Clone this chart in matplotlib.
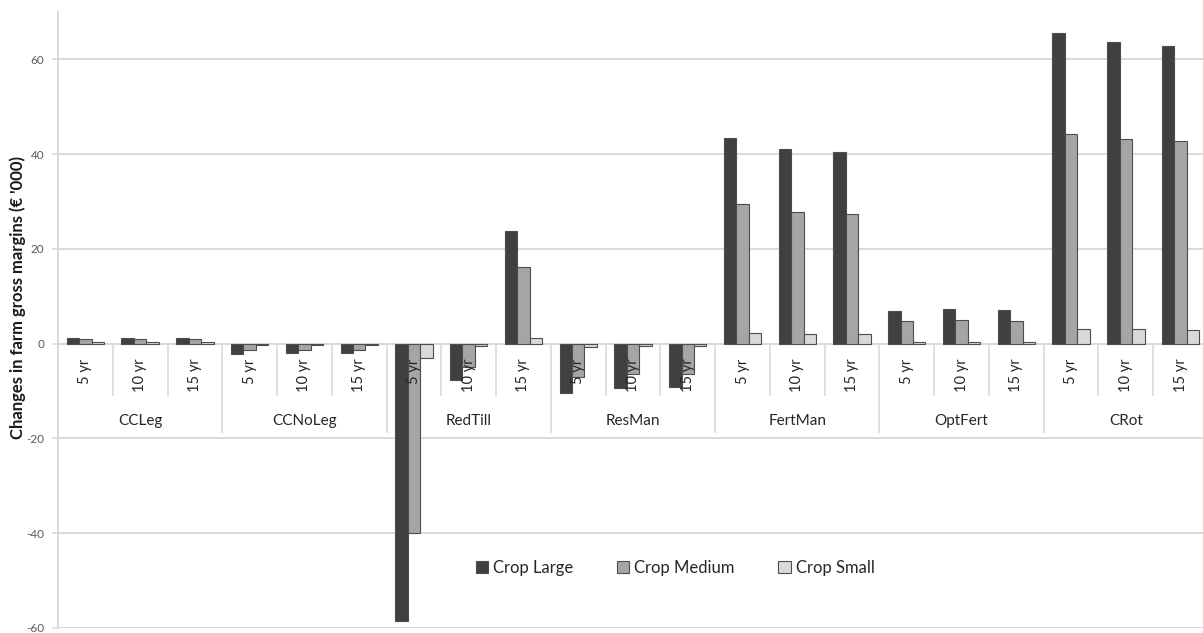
import matplotlib
matplotlib.use("Agg")
import matplotlib.pyplot as plt
import numpy as np

# Scenario groups and time horizons
groups = ["CCLeg", "CCNoLeg", "RedTill", "ResMan", "FertMan", "OptFert", "CRot"]
horizons = ["5 yr", "10 yr", "15 yr"]
series_names = ["Crop Large", "Crop Medium", "Crop Small"]

# Change in farm gross margins (EUR '000), one value per group x horizon
crop_large = [1.3, 1.3, 1.3,
              -2.1, -1.9, -1.9,
              -58.5, -7.7, 23.8,
              -10.5, -9.3, -9.1,
              43.4, 41.0, 40.5,
              7.0, 7.3, 7.2,
              65.5, 63.6, 62.9]
crop_medium = [1.0, 1.0, 1.0,
               -1.4, -1.3, -1.3,
               -40.0, -5.0, 16.2,
               -7.1, -6.5, -6.3,
               29.5, 27.8, 27.4,
               4.7, 5.1, 4.8,
               44.3, 43.1, 42.7]
crop_small = [0.3, 0.3, 0.3,
              -0.3, -0.2, -0.2,
              -3.0, -0.4, 1.2,
              -0.6, -0.5, -0.4,
              2.2, 2.0, 2.0,
              0.4, 0.4, 0.4,
              3.1, 3.1, 2.9]

colors = ["#404040", "#a5a5a5", "#d9d9d9"]
edge = "#4d4d4d"
grid_c = "#d9d9d9"
text_c = "#595959"

plt.rcParams["font.family"] = ["Lato", "DejaVu Sans"]
plt.rcParams["axes.unicode_minus"] = False

W, H = 1203, 633
fig = plt.figure(figsize=(W / 100, H / 100), dpi=100)
left, top, bottom = 58, 12, 628
width_px = 1150
ax = fig.add_axes([left / W, 1 - bottom / H, width_px / W, (bottom - top) / H])

n_cat = len(groups) * len(horizons)
x = np.arange(n_cat)
bw = 0.227
for i, (vals, name) in enumerate(zip([crop_large, crop_medium, crop_small], series_names)):
    ax.bar(x + (i - 1) * bw, vals, width=bw, color=colors[i], edgecolor=edge,
           linewidth=0.8, label=name, zorder=3)

ax.set_xlim(-0.5, n_cat - 0.5)
ax.set_ylim(-60, 70)
ax.set_yticks([-60, -40, -20, 0, 20, 40, 60])
ax.yaxis.grid(True, color=grid_c, linewidth=1.4, zorder=0)
ax.set_axisbelow(True)
ax.set_xticks([])
for s in ["top", "right", "bottom"]:
    ax.spines[s].set_visible(False)
ax.spines["left"].set_color(grid_c)
ax.spines["left"].set_linewidth(1.4)
ax.tick_params(axis="y", colors=grid_c, labelcolor=text_c, labelsize=8.5,
               length=4, width=1.2, pad=6)

fig.text(18 / W, 1 - 297 / H, "Changes in farm gross margins (€ '000)",
         rotation=90, ha="center", va="center", fontsize=12,
         fontweight="bold", color="#1a1a1a")

# Two-level category axis drawn at the zero line
trans = ax.get_xaxis_transform()
px = 1.0 / (bottom - top)  # one pixel in axes-fraction units
zero_ax = (0 - (-60)) / 130.0
inner_len = 51 * px
outer_len = 88 * px
for k in range(1, n_cat + 1):
    xs = k - 0.5
    ln = outer_len if k % 3 == 0 else inner_len
    ax.plot([xs, xs], [zero_ax, zero_ax - ln], transform=trans,
            color=grid_c, linewidth=1.2, zorder=1, clip_on=False)

for k in range(n_cat):
    ax.annotate(horizons[k % 3], xy=(k, 0), xytext=(0, -15),
                textcoords="offset pixels", rotation=90, ha="center", va="top",
                fontsize=10.5, color="#262626", zorder=5)

for g, name in enumerate(groups):
    ax.annotate(name, xy=(g * 3 + 1, 0), xytext=(0, -77),
                textcoords="offset pixels", ha="center", va="center",
                fontsize=11, color="#262626", zorder=5)

leg = fig.legend(loc="center", bbox_to_anchor=(675 / W, 1 - 568 / H), ncol=3,
                 frameon=False, fontsize=12, handlelength=0.75, handleheight=0.75,
                 handletextpad=0.3, columnspacing=2.6, labelcolor="#262626")

fig.savefig("out.png", dpi=100)
